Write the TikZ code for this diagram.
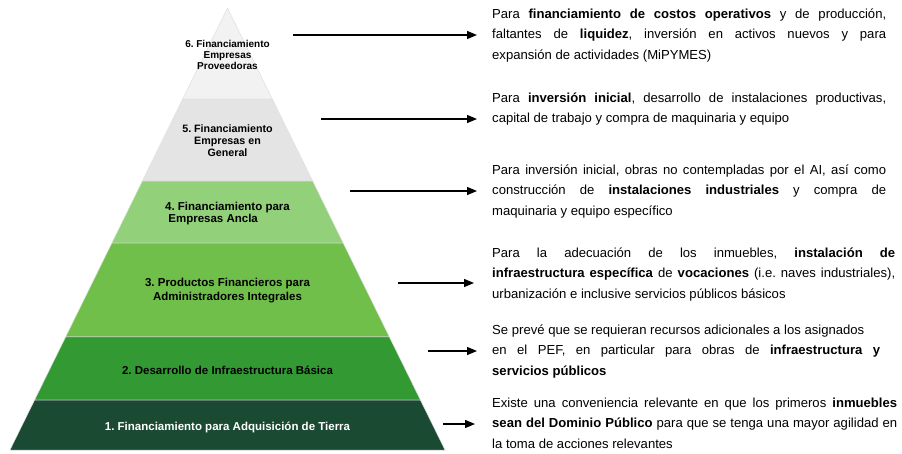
\documentclass[tikz,border=0pt]{standalone}
\usepackage{fontspec}
\setmainfont{Liberation Sans}
\usetikzlibrary{calc,arrows.meta}
\definecolor{csix}{HTML}{F2F2F2}
\definecolor{cfive}{HTML}{E4E4E4}
\definecolor{cfour}{HTML}{92D07A}
\definecolor{cthree}{HTML}{6FBF4A}
\definecolor{ctwo}{HTML}{339933}
\definecolor{cone}{HTML}{1B4A33}
\frenchspacing
\begin{document}
\begin{tikzpicture}[x=1pt,y=-1pt,
  layer/.style={draw=white!88!black, line width=0.5pt},
  lbl/.style={font=\fontsize{11.5}{#1}\selectfont\bfseries, align=center, inner sep=0},
  desc/.style={font=\fontsize{13.1}{20.5}\selectfont, align=justify, anchor=base west, inner sep=0},
  arr/.style={line width=1.3pt, -{Triangle[length=10pt,width=8pt]}}
]
\useasboundingbox (0,0) rectangle (902,453);
\fill[white] (0,0) rectangle (902,453);
% pyramid geometry
\coordinate (A) at (227.5,8);
\coordinate (BL) at (10,450);
\coordinate (BR) at (445,450);
\foreach \n/\t in {a/0.2059,b/0.3914,c/0.5317,d/0.7443,e/0.8869}{
  \coordinate (L\n) at ($(A)!\t!(BL)$);
  \coordinate (R\n) at ($(A)!\t!(BR)$);
}
\filldraw[layer, fill=csix] (A) -- (Ra) -- (La) -- cycle;
\filldraw[layer, fill=cfive] (La) -- (Ra) -- (Rb) -- (Lb) -- cycle;
\filldraw[layer, fill=cfour] (Lb) -- (Rb) -- (Rc) -- (Lc) -- cycle;
\filldraw[layer, fill=cthree] (Lc) -- (Rc) -- (Rd) -- (Ld) -- cycle;
\filldraw[layer, fill=ctwo] (Ld) -- (Rd) -- (Re) -- (Le) -- cycle;
\filldraw[layer, fill=cone] (Le) -- (Re) -- (BR) -- (BL) -- cycle;
% labels
\node[lbl=11, font=\fontsize{10}{11}\selectfont\bfseries] (p6) at (227.5,55) {6. Financiamiento\\Empresas\\Proveedoras};
\node[lbl=12, font=\fontsize{10.7}{12}\selectfont\bfseries] (p5) at (227.5,141) {5. Financiamiento\\Empresas en\\General};
\node[lbl=12, align=left] (p4) at (227.5,213.5) {4. Financiamiento para\\\ Empresas Ancla};
\node[lbl=14] (p3) at (227.5,291) {3. Productos Financieros para\\Administradores Integrales};
\node[lbl=14] (p2) at (227.5,370) {2. Desarrollo de Infraestructura Básica};
\node[lbl=14, text=white] (p1) at (227.5,427) {1. Financiamiento para Adquisición de Tierra};
% descriptions
\node[desc, text width=394pt] (t6) at (492,18) {Para \textbf{financiamiento de costos operativos} y de producción,\linebreak faltantes de \textbf{liquidez}, inversión en activos nuevos y para\linebreak expansión de actividades (MiPYMES)};
\node[desc, text width=394pt] (t5) at (492,102) {Para \textbf{inversión inicial}, desarrollo de instalaciones productivas,\linebreak capital de trabajo y compra de maquinaria y equipo};
\node[desc, text width=394pt] (t4) at (492,174) {Para inversión inicial, obras no contempladas por el AI, así como\linebreak construcción de \textbf{instalaciones industriales} y compra de\linebreak maquinaria y equipo específico};
\node[desc, text width=403pt] (t3) at (492,257) {Para la adecuación de los inmuebles, \textbf{instalación de}\linebreak \textbf{infraestructura específica} de \textbf{vocaciones} (i.e. naves industriales),\linebreak urbanización e inclusive servicios públicos básicos};
\node[desc, text width=388pt] (t2) at (492,334) {Se prevé que se requieran recursos adicionales a los asignados\\ en el PEF, en particular para obras de \textbf{infraestructura y}\linebreak \textbf{servicios públicos}};
\node[desc, text width=405pt] (t1) at (492,407) {Existe una conveniencia relevante en que los primeros \textbf{inmuebles}\linebreak \textbf{sean del Dominio Público} para que se tenga una mayor agilidad en\linebreak la toma de acciones relevantes};
% arrows
\coordinate (s6) at (293,35);  \coordinate (e6) at (477,35);
\coordinate (s5) at (321,119); \coordinate (e5) at (477,119);
\coordinate (s4) at (350,191); \coordinate (e4) at (477,191);
\coordinate (s3) at (398,283); \coordinate (e3) at (474,283);
\coordinate (s2) at (428,351); \coordinate (e2) at (477,351);
\coordinate (s1) at (443,424); \coordinate (e1) at (475,424);
\foreach \i in {1,...,6}{\draw[arr] (s\i) -- (e\i);}
\end{tikzpicture}
\end{document}
